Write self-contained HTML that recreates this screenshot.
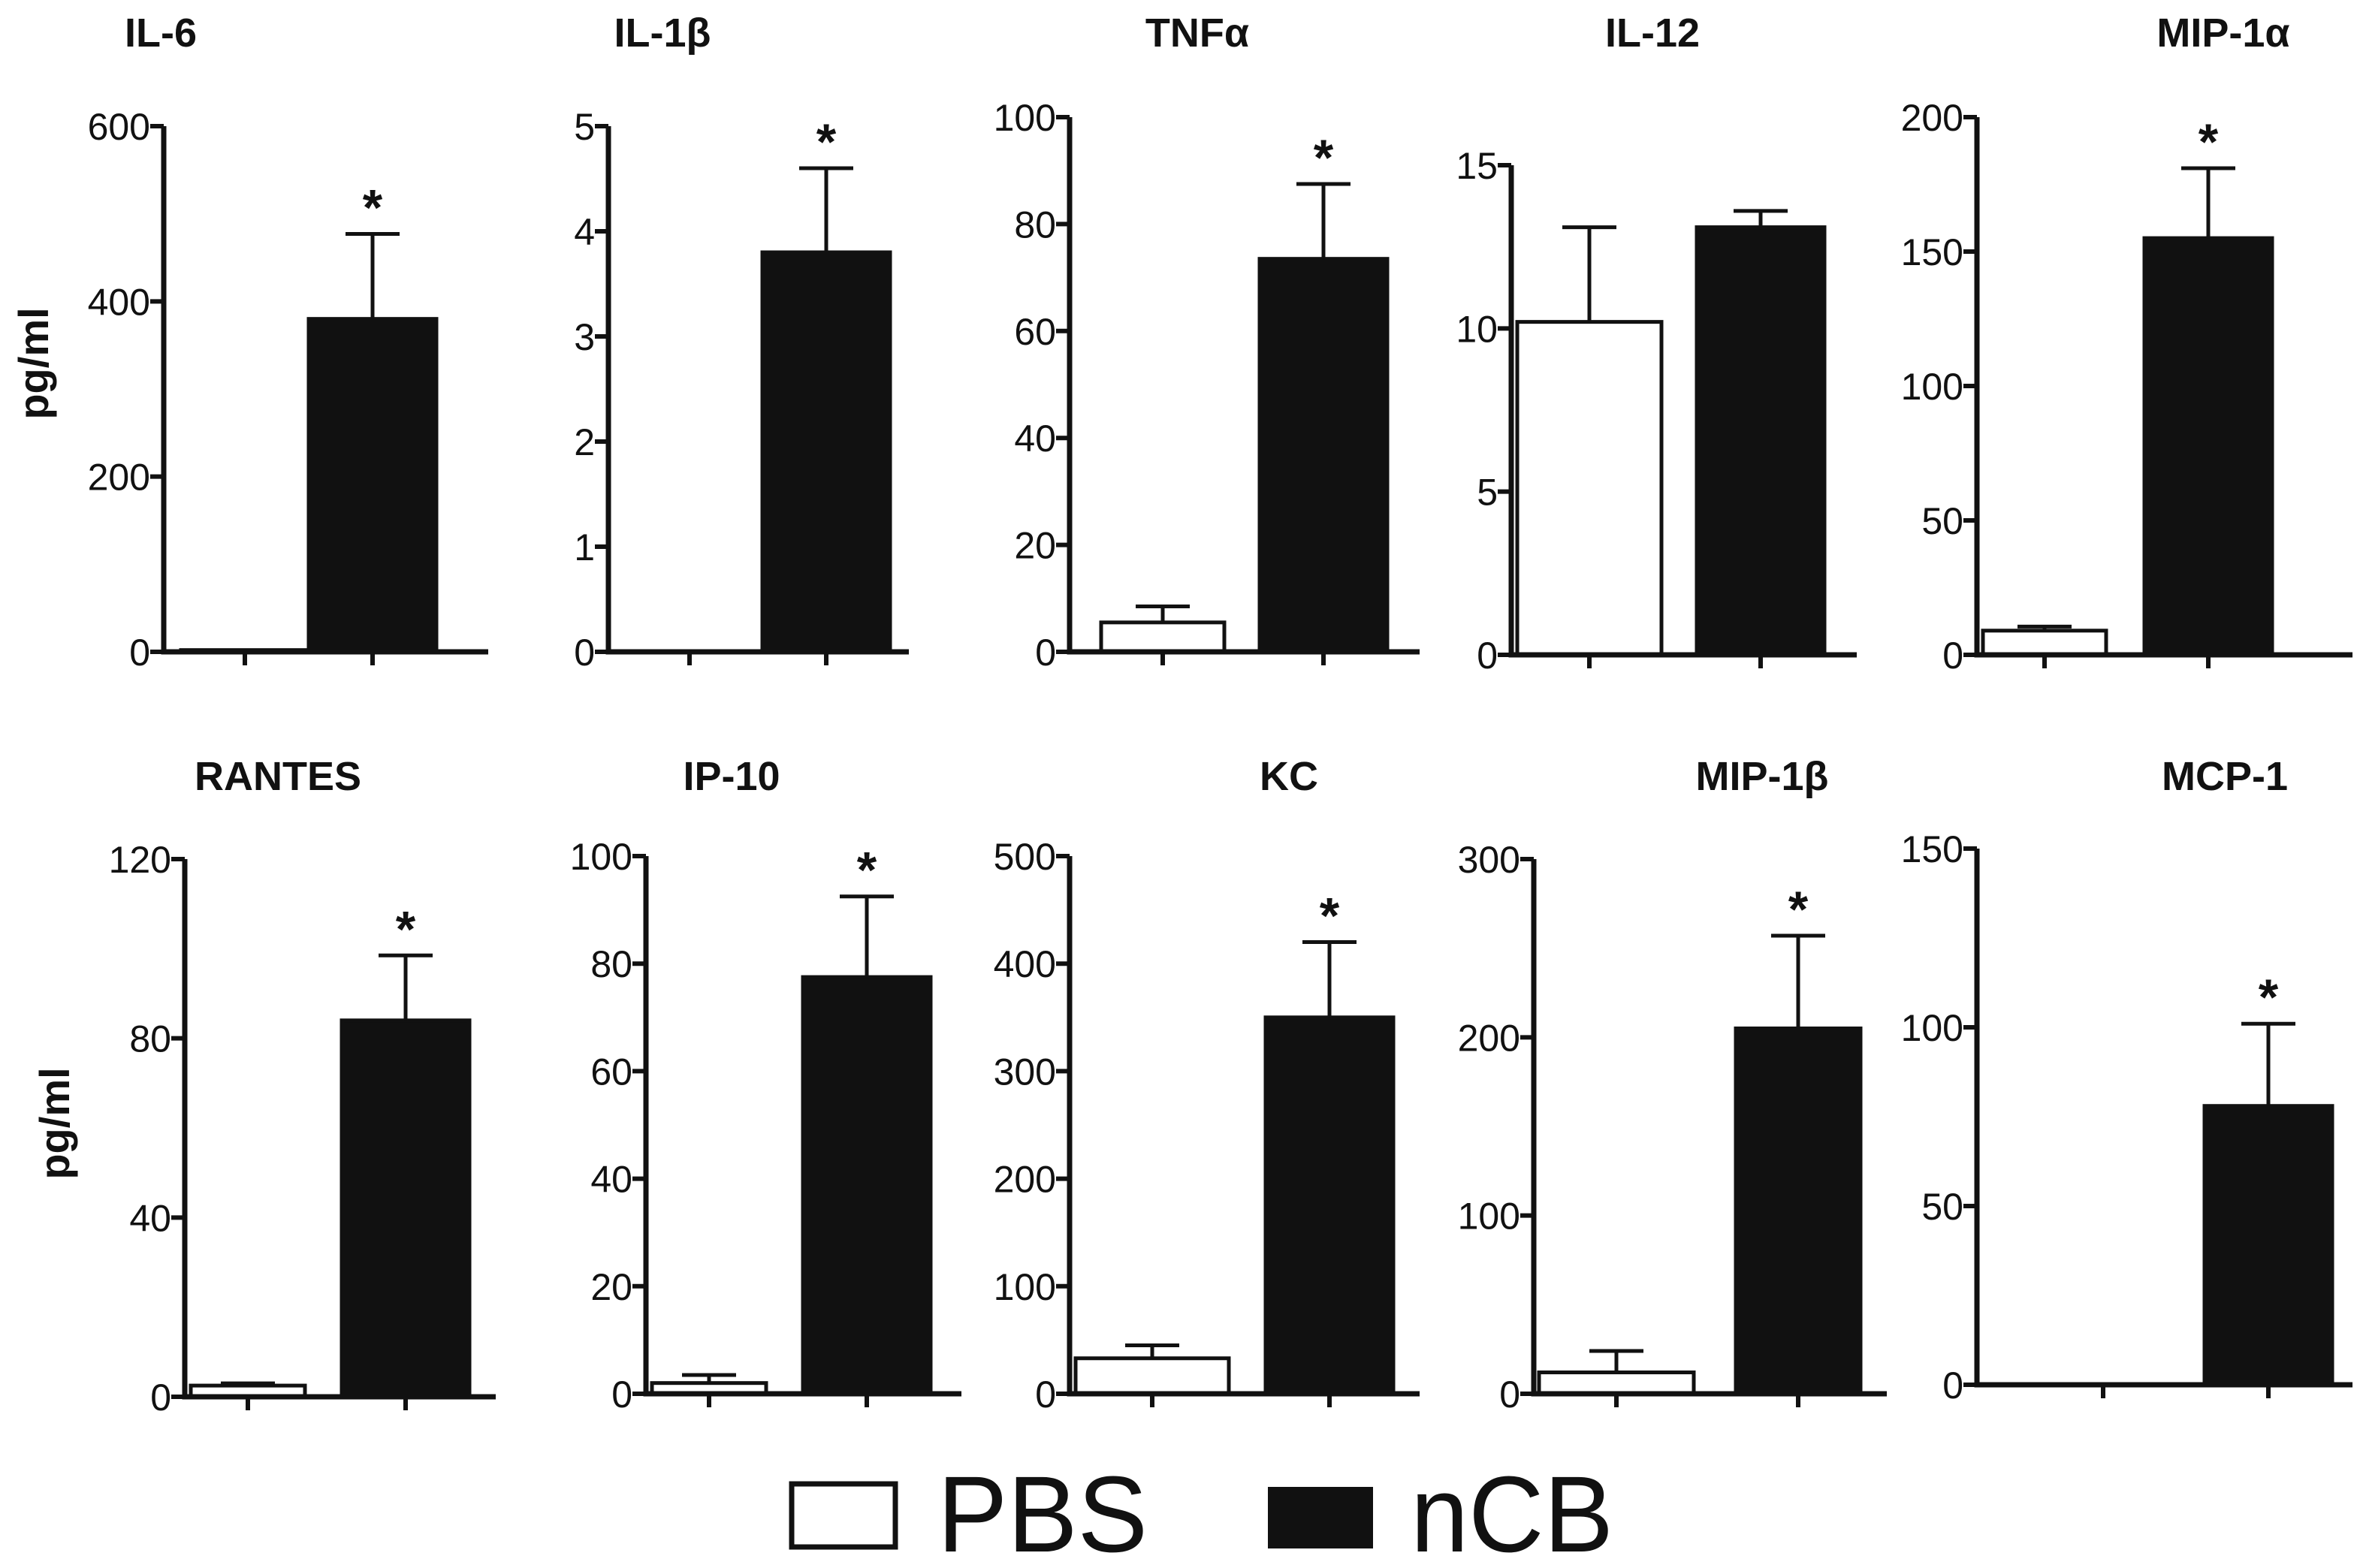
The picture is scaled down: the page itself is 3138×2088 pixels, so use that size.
<!DOCTYPE html>
<html><head><meta charset="utf-8"><style>
html,body{margin:0;padding:0;background:#fff;}
svg{display:block;}
text{font-family:"Liberation Sans",Arial,sans-serif;fill:#111;}
</style></head><body>
<svg id="chart" width="3138" height="2088" viewBox="0 0 1569 1044" xmlns="http://www.w3.org/2000/svg">
<g id="panels"></g>
<g>
  <rect x="527" y="988" width="69" height="42" fill="#fff" stroke="#111" stroke-width="3.5"/>
  <text x="624" y="1033" font-size="72" textLength="140" lengthAdjust="spacingAndGlyphs">PBS</text>
  <rect x="844" y="990" width="70" height="41" fill="#111"/>
  <text x="939" y="1033" font-size="72" textLength="135" lengthAdjust="spacingAndGlyphs">nCB</text>
</g>
<text transform="translate(32,242) rotate(-90)" text-anchor="middle" font-size="28" font-weight="bold">pg/ml</text>
<text transform="translate(46,748) rotate(-90)" text-anchor="middle" font-size="28" font-weight="bold">pg/ml</text>
</svg>
<script>
// ---- data ----
const categories = ["IL-6","IL-1β","TNFα","IL-12","MIP-1α","RANTES","IP-10","KC","MIP-1β","MCP-1"];
const pbsValues = [2, 0, 5.5, 10.2, 9, 2.5, 2, 33, 12, 0];
const pbsErrors = [2, 0, 8.5, 13.1, 10.5, 3, 3.5, 45, 24, 0];
const ncbValues = [380, 3.8, 73.5, 13.1, 155, 84, 77.5, 350, 205, 78];
const ncbErrors = [477, 4.6, 87.5, 13.6, 181, 98.5, 92.5, 420, 257, 101];
const yMax = [600, 5, 100, 15, 200, 120, 100, 500, 300, 150];
const tickStep = [200, 1, 20, 5, 50, 40, 20, 100, 100, 50];
const significant = [true, true, true, false, true, true, true, true, true, true];

// ---- layout (pixel geometry, not data) ----
const axX   = [109, 405, 712, 1006, 1316, 123, 430, 712, 1021, 1316];
const yTop  = [84, 84, 78, 110, 78, 572, 570, 570, 572, 565];
const yZero = [434, 434, 434, 436, 436, 930, 928, 928, 928, 922];
const c1    = [163, 459, 774, 1058, 1361, 165, 472, 767, 1076, 1400];
const c2    = [248, 550, 881, 1172, 1470, 270, 577, 885, 1197, 1510];
const w1    = [85, 85, 82, 96, 82, 76, 76, 102, 103, 85];
const w2    = [85, 85, 85, 85, 85, 85, 85, 85, 83, 85];
const axEnd = [325, 605, 945, 1236, 1566, 330, 640, 945, 1256, 1566];
const titleX = [107, 441, 797, 1100, 1480, 185, 487, 858, 1173, 1481];
const titleY = [31, 31, 31, 31, 31, 526, 526, 526, 526, 526];

const NS = "http://www.w3.org/2000/svg";
const root = document.getElementById("panels");
function mk(tag, attrs, parent) {
  const e = document.createElementNS(NS, tag);
  for (const k in attrs) e.setAttribute(k, attrs[k]);
  parent.appendChild(e);
  return e;
}
categories.forEach((cat, i) => {
  const g = mk("g", {}, root);
  
  
  const y = v => yZero[i] - (v / yMax[i]) * (yZero[i] - yTop[i]);
  const t = mk("text", {x: titleX[i], y: titleY[i], "text-anchor": "middle", "font-size": 27, "font-weight": "bold"}, g);
  t.textContent = cat;
  
  
  const drawBar = (cx, w, val, err, fill, nm) => {
    const b = mk("rect", {x: cx - w/2, y: y(val), width: w, height: Math.max(0, yZero[i] - y(val)), fill: fill, stroke: "#111", "stroke-width": 2.5}, g);
    
    
    if (err > val) {
      const e = mk("path", {d: `M${cx} ${y(val)} V${y(err)} M${cx-18} ${y(err)} H${cx+18}`, stroke: "#111", "stroke-width": 2.5, fill: "none"}, g);
      
      
    }
  };
  drawBar(c1[i], w1[i], pbsValues[i], pbsErrors[i], "#fff", "bar-pbs");
  drawBar(c2[i], w2[i], ncbValues[i], ncbErrors[i], "#111", "bar-ncb");
  if (significant[i]) {
    const s = mk("text", {x: c2[i], y: y(ncbErrors[i]) - 6, "text-anchor": "middle", "font-size": 34, "font-weight": "bold"}, g);
    s.textContent = "*";
    
    
  }
  const ax = mk("path", {d: `M${axX[i]} ${yTop[i]} V${yZero[i]} H${axEnd[i]}`, stroke: "#111", "stroke-width": 3.5, fill: "none"}, g);
  
  
  for (let v = 0; v <= yMax[i] + 1e-9; v += tickStep[i]) {
    const tk = mk("line", {x1: axX[i] - 9, x2: axX[i], y1: y(v), y2: y(v), stroke: "#111", "stroke-width": 3}, g);
    
    
    const lb = mk("text", {x: axX[i] - 9, y: y(v) + 9, "text-anchor": "end", "font-size": 25}, g);
    lb.textContent = String(Math.round(v * 100) / 100);
    
    
  }
  [c1[i], c2[i]].forEach(cx => {
    const xt = mk("line", {x1: cx, x2: cx, y1: yZero[i], y2: yZero[i] + 9, stroke: "#111", "stroke-width": 3}, g);
    
    
  });
});
</script>
</body></html>
